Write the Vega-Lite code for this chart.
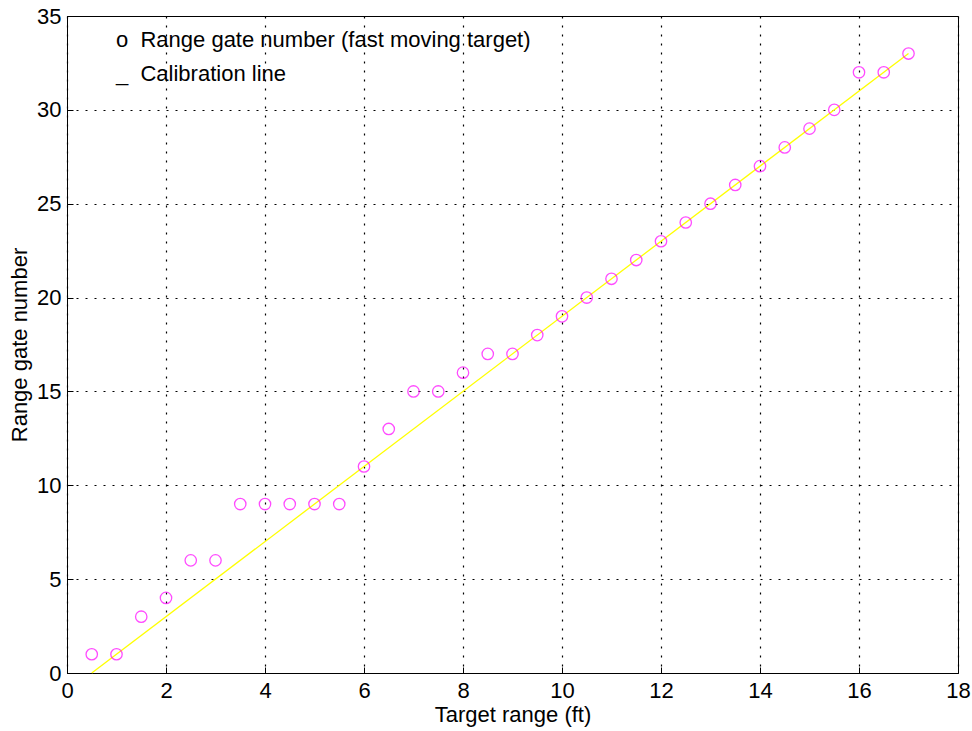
{
  "$schema": "https://vega.github.io/schema/vega-lite/v6.json",
  "autosize": {"type": "none"},
  "padding": {"left": 67, "top": 16, "right": 14, "bottom": 58},
  "width": 891,
  "height": 657,
  "background": "white",
  "config": {
    "view": {"stroke": "black", "strokeWidth": 1}
  },
  "datasets": {
    "pts": [
      {"range": 0.5, "gate": 1}, {"range": 1, "gate": 1}, {"range": 1.5, "gate": 3},
      {"range": 2, "gate": 4}, {"range": 2.5, "gate": 6}, {"range": 3, "gate": 6},
      {"range": 3.5, "gate": 9}, {"range": 4, "gate": 9}, {"range": 4.5, "gate": 9},
      {"range": 5, "gate": 9}, {"range": 5.5, "gate": 9}, {"range": 6, "gate": 11},
      {"range": 6.5, "gate": 13}, {"range": 7, "gate": 15}, {"range": 7.5, "gate": 15},
      {"range": 8, "gate": 16}, {"range": 8.5, "gate": 17}, {"range": 9, "gate": 17},
      {"range": 9.5, "gate": 18}, {"range": 10, "gate": 19}, {"range": 10.5, "gate": 20},
      {"range": 11, "gate": 21}, {"range": 11.5, "gate": 22}, {"range": 12, "gate": 23},
      {"range": 12.5, "gate": 24}, {"range": 13, "gate": 25}, {"range": 13.5, "gate": 26},
      {"range": 14, "gate": 27}, {"range": 14.5, "gate": 28}, {"range": 15, "gate": 29},
      {"range": 15.5, "gate": 30}, {"range": 16, "gate": 32}, {"range": 16.5, "gate": 32},
      {"range": 17, "gate": 33}
    ],
    "cal": [
      {"range": 0.5, "gate": 0}, {"range": 17, "gate": 33}
    ]
  },
  "layer": [
    {
      "data": {"name": "cal"},
      "mark": {"type": "line", "color": "#ffff00", "strokeWidth": 1.3},
      "encoding": {
        "x": {"field": "range", "type": "quantitative", "scale": {"domain": [0, 18], "nice": false},
              "axis": {"values": [0,2,4,6,8,10,12,14,16,18], "title": "Target range (ft)", "titlePadding": 3,
                       "labelFont": "Liberation Sans", "titleFont": "Liberation Sans",
                       "labelFontSize": 22, "titleFontSize": 22, "titleFontWeight": "normal",
                       "labelColor": "black", "titleColor": "black", "domainColor": "black", "tickColor": "black",
                       "grid": true, "gridColor": "black", "gridDash": [2, 7], "gridWidth": 1.2,
                       "tickSize": -6, "labelPadding": 13, "labelOverlap": false, "labelFlush": false}},
        "y": {"field": "gate", "type": "quantitative", "scale": {"domain": [0, 35], "nice": false},
              "axis": {"values": [0,5,10,15,20,25,30,35], "title": "Range gate number", "titlePadding": 5,
                       "labelFont": "Liberation Sans", "titleFont": "Liberation Sans",
                       "labelFontSize": 22, "titleFontSize": 22, "titleFontWeight": "normal",
                       "labelColor": "black", "titleColor": "black", "domainColor": "black", "tickColor": "black",
                       "grid": true, "gridColor": "black", "gridDash": [2, 7], "gridWidth": 1.2,
                       "tickSize": -6, "labelPadding": 12, "labelOverlap": false, "labelFlush": false}}
      }
    },
    {
      "data": {"name": "pts"},
      "mark": {"type": "point", "shape": "circle", "filled": false, "color": "#ff00ff", "size": 130, "strokeWidth": 1.3},
      "encoding": {
        "x": {"field": "range", "type": "quantitative"},
        "y": {"field": "gate", "type": "quantitative"}
      }
    },
    {
      "data": {"values": [
        {"label": "o\u00a0\u00a0Range gate number (fast moving target)", "order": 1},
        {"label": "_\u00a0\u00a0Calibration line", "order": 2}
      ]},
      "mark": {"type": "point", "opacity": 0},
      "encoding": {
        "color": {
          "field": "label", "type": "nominal",
          "sort": ["o\u00a0\u00a0Range gate number (fast moving target)", "_\u00a0\u00a0Calibration line"],
          "scale": {"range": ["black", "black"]},
          "legend": {
            "title": null,
            "orient": "none",
            "legendX": 27,
            "legendY": 13,
            "padding": 0,
            "symbolOpacity": 0,
            "symbolSize": 0,
            "symbolStrokeWidth": 0,
            "labelFontSize": 22,
            "labelFont": "Liberation Sans",
            "labelColor": "black",
            "labelLimit": 600,
            "rowPadding": 12,
            "labelOffset": 0
          }
        }
      }
    }
  ]
}
